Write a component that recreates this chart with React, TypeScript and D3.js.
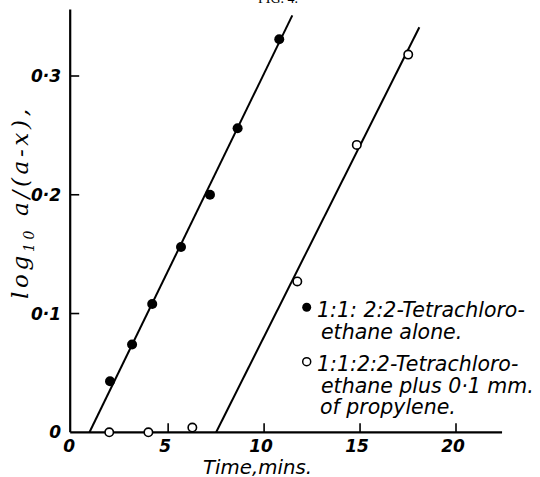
import React from "react";
import { scaleLinear, line } from "d3";

// filled circles: tetrachloroethane alone
const aloneTime = [1.97, 3.12, 4.17, 5.67, 7.18, 8.62, 10.79];
const aloneLog = [0.043, 0.074, 0.108, 0.156, 0.2, 0.256, 0.331];
// open circles: plus 0.1 mm propylene
const propTime = [1.93, 3.97, 6.26, 11.73, 14.83, 17.51];
const propLog = [0, 0, 0.004, 0.127, 0.242, 0.318];
// fitted straight lines (end points)
const aloneFitTime = [0.9, 11.47];
const aloneFitLog = [0, 0.351];
const propFitTime = [7.5, 18.09];
const propFitLog = [0, 0.341];

const xTicks = [0, 5, 10, 15, 20];
const xTickLabels = ["0", "5", "10", "15", "20"];
const yTicks = [0, 0.1, 0.2, 0.3];
const yTickLabels = ["0", "0·1", "0·2", "0·3"];

const legendAlone = ["1:1: 2:2-Tetrachloro-", "ethane alone."];
const legendProp = ["1:1:2:2-Tetrachloro-", "ethane plus 0·1 mm.", "of propylene."];

const W = 540;
const H = 477;

export default function App() {
  const x = scaleLinear().domain([0, 20]).range([72.2, 456]);
  const y = scaleLinear().domain([0, 0.3]).range([432.3, 76]);

  const path = line<[number, number]>()
    .x((d) => x(d[0]))
    .y((d) => y(d[1]));

  const fit1 = aloneFitTime.map((t, i) => [t, aloneFitLog[i]] as [number, number]);
  const fit2 = propFitTime.map((t, i) => [t, propFitLog[i]] as [number, number]);

  const axisX = x(0) - 2;
  const axisY = y(0);
  const tickFont = "'DejaVu Sans', sans-serif";

  // legend line layout: [x, baseline]
  const aloneRows = [
    [317, 316.7],
    [321, 338.5],
  ];
  const propRows = [
    [317, 371],
    [321, 393],
    [320, 413.5],
  ];

  return (
    <svg
      width={W}
      height={H}
      style={{ position: "absolute", left: 0, top: 0, background: "#fff" }}
    >
      <text x={278} y={3} textAnchor="middle" fontFamily="'Liberation Serif', serif" fontSize={14}>
        FIG. 4.
      </text>

      {/* axes */}
      <line x1={axisX} x2={axisX} y1={y(0.356)} y2={axisY} stroke="#000" strokeWidth={2.2} />
      <line x1={axisX} x2={x(22.4)} y1={axisY} y2={axisY} stroke="#000" strokeWidth={2.2} />

      {yTicks.slice(1).map((v) => (
        <line key={v} x1={axisX} x2={axisX + 9} y1={y(v)} y2={y(v)} stroke="#000" strokeWidth={1.6} />
      ))}
      {xTicks.slice(1).map((v) => (
        <line key={v} x1={x(v)} x2={x(v)} y1={axisY} y2={axisY - 9} stroke="#000" strokeWidth={1.6} />
      ))}

      {yTicks.map((v, i) => (
        <text
          key={v}
          x={61}
          y={y(v) + 6}
          textAnchor="end"
          fontFamily={tickFont}
          fontStyle="italic"
          fontWeight="bold"
          fontSize={17}
        >
          {yTickLabels[i]}
        </text>
      ))}
      {xTicks.map((v, i) => (
        <text
          key={v}
          x={x(v) - 3}
          y={452}
          textAnchor="middle"
          fontFamily={tickFont}
          fontStyle="italic"
          fontWeight="bold"
          fontSize={17}
        >
          {xTickLabels[i]}
        </text>
      ))}

      <text
        x={203}
        y={474}
        fontFamily={tickFont}
        fontStyle="italic"
        fontSize={19}
        textLength={109}
        lengthAdjust="spacingAndGlyphs"
      >
        Time,mins.
      </text>

      <text
        transform={`translate(28,204) rotate(-90)`}
        textAnchor="middle"
        fontFamily="'DejaVu Serif', serif"
        fontStyle="italic"
        fontSize={23}
        textLength={190}
        lengthAdjust="spacing"
      >
        log<tspan fontSize={14} dy={6}>10</tspan>
        <tspan dy={-6}> a/(a-x),</tspan>
      </text>

      {/* fitted lines */}
      <path d={path(fit1) || ""} fill="none" stroke="#000" strokeWidth={2} />
      <path d={path(fit2) || ""} fill="none" stroke="#000" strokeWidth={2} />

      {aloneTime.map((t, i) => (
        <circle key={"a" + i} cx={x(t)} cy={y(aloneLog[i])} r={5} fill="#000" />
      ))}
      {propTime.map((t, i) => (
        <circle
          key={"p" + i}
          cx={x(t)}
          cy={y(propLog[i])}
          r={4.2}
          fill="#fff"
          stroke="#000"
          strokeWidth={1.6}
        />
      ))}

      {/* legend */}
      <circle cx={306.7} cy={307.3} r={4.5} fill="#000" />
      {legendAlone.map((s, i) => (
        <text
          key={"la" + i}
          x={aloneRows[i][0]}
          y={aloneRows[i][1]}
          fontFamily={tickFont}
          fontStyle="italic"
          fontSize={20.5}
        >
          {s}
        </text>
      ))}
      <circle cx={306.7} cy={361.7} r={4} fill="#fff" stroke="#000" strokeWidth={1.5} />
      {legendProp.map((s, i) => (
        <text
          key={"lp" + i}
          x={propRows[i][0]}
          y={propRows[i][1]}
          fontFamily={tickFont}
          fontStyle="italic"
          fontSize={20.5}
        >
          {s}
        </text>
      ))}
    </svg>
  );
}
